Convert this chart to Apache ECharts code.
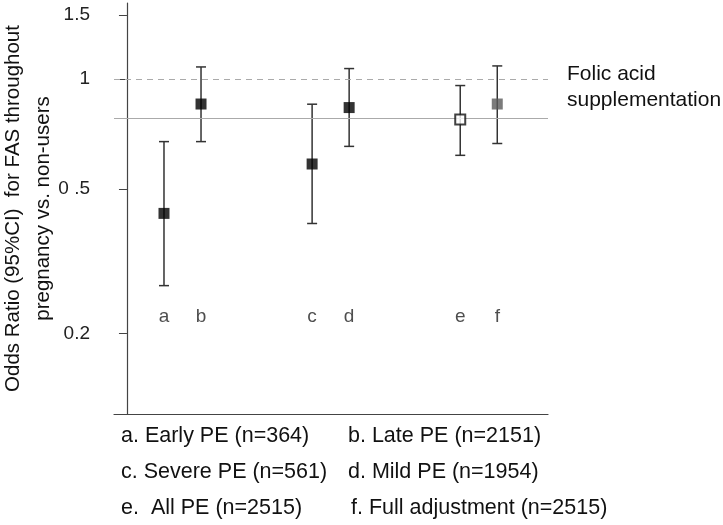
<!DOCTYPE html>
<html>
<head>
<meta charset="utf-8">
<script src="https://cdn.jsdelivr.net/npm/echarts@6/dist/echarts.min.js"></script>
<style>
html,body{margin:0;padding:0;background:#fff;}
#chart{width:723px;height:525px;}
</style>
</head>
<body>
<div id="chart"></div>
<script>
// ---- data ----
const letters = ['a', 'b', 'c', 'd', 'e', 'f'];
const xPos = [1, 2, 5, 6, 9, 10];
const oddsRatio = [0.428, 0.855, 0.585, 0.836, 0.775, 0.855];
const ciLower = [0.271, 0.674, 0.4015, 0.654, 0.618, 0.666];
const ciUpper = [0.674, 1.081, 0.854, 1.070, 0.961, 1.088];
const letterLevel = 0.222;
const refLineDashed = 1;
const refLineSolid = 0.775;
const tickValues = [0.2, 0.5, 1, 1.5];
const tickLabels = ['0.2', '0 .5', '1', '1.5'];
const legendRows = [
  ['a. Early PE (n=364)', 'b. Late PE (n=2151)'],
  ['c. Severe PE (n=561)', 'd. Mild PE (n=1954)'],
  ['e.  All PE (n=2515)', 'f. Full adjustment (n=2515)']
];
const yTitle = 'Odds Ratio (95%CI)  for FAS throughout\npregnancy vs. non-users';
const refLabel = 'Folic acid\nsupplementation';

// ---- styles ----
const FONT = 'Liberation Sans';
const markerStyles = [
  { color: '#000', borderColor: '#000', borderWidth: 0 },
  { color: '#000', borderColor: '#000', borderWidth: 0 },
  { color: '#000', borderColor: '#000', borderWidth: 0 },
  { color: '#000', borderColor: '#000', borderWidth: 0 },
  { color: '#fff', borderColor: '#111', borderWidth: 2 },
  { color: '#5a5a5a', borderColor: '#5a5a5a', borderWidth: 0 }
];

const chart = echarts.init(document.getElementById('chart'), null, { renderer: 'canvas' });

function fmtTick(v) {
  for (let i = 0; i < tickValues.length; i++) {
    if (Math.abs(v - tickValues[i]) < 1e-6) return tickLabels[i];
  }
  return '';
}

const pointData = xPos.map((x, i) => ({
  value: [x, oddsRatio[i]],
  itemStyle: markerStyles[i],
  symbolSize: i === 4 ? 10 : 11
}));

const errData = xPos.map((x, i) => [x, ciLower[i], ciUpper[i]]);
const letterData = xPos.map((x, i) => ({ value: [x, letterLevel], name: letters[i] }));

const option = {
  animation: false,
  backgroundColor: '#fff',
  grid: { left: 114, top: 3, right: 175, bottom: 111, containLabel: false, outerBoundsMode: 'none' },
  xAxis: {
    type: 'value',
    min: -0.35,
    max: 11.37,
    axisLine: { show: true, lineStyle: { color: '#444', width: 1.2 } },
    axisTick: { show: false },
    axisLabel: { show: false },
    splitLine: { show: false }
  },
  yAxis: {
    type: 'log',
    logBase: 10,
    min: 0.1203,
    max: 1.62,
    name: yTitle,
    nameLocation: 'middle',
    nameRotate: 90,
    nameGap: 56,
    nameMoveOverlap: false,
    nameTextStyle: { fontFamily: FONT, fontSize: 20.5, color: '#111', lineHeight: 30, align: 'center' },
    axisLine: { show: true, lineStyle: { color: '#444', width: 1.2 } },
    axisTick: { show: true, length: 8, customValues: tickValues, lineStyle: { color: '#444' } },
    axisLabel: {
      customValues: tickValues,
      formatter: fmtTick,
      fontFamily: FONT, fontSize: 19, color: '#222', margin: 24
    },
    splitLine: { show: false },
    minorTick: { show: false }
  },
  series: [
    {
      type: 'line',
      data: [],
      markLine: {
        silent: true,
        symbol: 'none',
        label: { show: false },
        data: [
          { yAxis: refLineDashed, lineStyle: { color: '#aaa', type: [6, 5], width: 1 } },
          { yAxis: refLineSolid, lineStyle: { color: '#aaa', type: 'solid', width: 1.2 } }
        ]
      }
    },
    {
      type: 'custom',
      data: errData,
      z: 3,
      renderItem: function (params, api) {
        const x = api.value(0);
        const lo = api.coord([x, api.value(1)]);
        const hi = api.coord([x, api.value(2)]);
        const hw = 5;
        const st = { stroke: '#333', lineWidth: 1.5 };
        return {
          type: 'group',
          children: [
            { type: 'line', shape: { x1: lo[0], y1: lo[1], x2: hi[0], y2: hi[1] }, style: st },
            { type: 'line', shape: { x1: lo[0] - hw, y1: lo[1], x2: lo[0] + hw, y2: lo[1] }, style: st },
            { type: 'line', shape: { x1: hi[0] - hw, y1: hi[1], x2: hi[0] + hw, y2: hi[1] }, style: st }
          ]
        };
      }
    },
    {
      type: 'scatter',
      symbol: 'rect',
      z: 5,
      data: pointData
    },
    {
      type: 'scatter',
      symbolSize: 0,
      data: letterData,
      label: {
        show: true,
        position: 'inside',
        formatter: p => p.name,
        fontFamily: FONT, fontSize: 19, color: '#222'
      }
    }
  ],
  graphic: [
    {
      type: 'text', left: 567, top: 61,
      style: { text: refLabel, font: '21px "Liberation Sans"', fill: '#111', lineHeight: 26 }
    }
  ].concat(
    legendRows.map((row, r) => ({
      type: 'text', left: 121, top: 425 + r * 36,
      style: { text: row[0], font: '21.5px "Liberation Sans"', fill: '#111' }
    })),
    legendRows.map((row, r) => ({
      type: 'text', left: r === 2 ? 351 : 348, top: 425 + r * 36,
      style: { text: row[1], font: '21.5px "Liberation Sans"', fill: '#111' }
    }))
  )
};

chart.setOption(option);
</script>
</body>
</html>
